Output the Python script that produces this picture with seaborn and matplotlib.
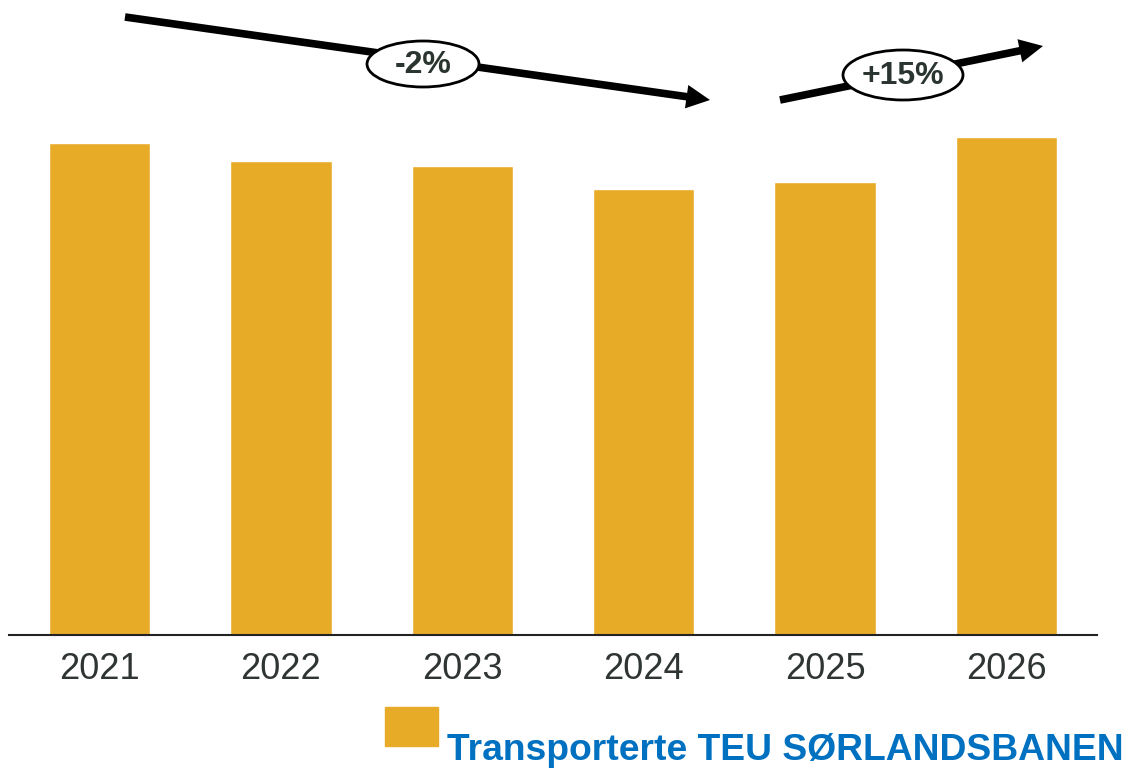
import pandas as pd
import matplotlib.pyplot as plt
import seaborn as sns
from matplotlib.patches import Ellipse, FancyArrowPatch

sns.set_style('white')
plt.rcParams['font.family'] = ['Liberation Sans', 'DejaVu Sans']

# data (no axis scale in source, heights read off in relative units)
years = ['2021', '2022', '2023', '2024', '2025', '2026']
teu = [492, 474, 469, 446, 453, 498]
legend_label = 'Transporterte TEU SØRLANDSBANEN'
changes = ['-2%', '+15%']

bar_color = '#E8AB28'

df = pd.DataFrame({'year': years, 'teu': teu})

fig = plt.figure(figsize=(11.27, 7.68), dpi=100)
ax = fig.add_axes([9 / 1127, 133 / 768, 1088 / 1127, 635 / 768])

sns.barplot(data=df, x='year', y='teu', color=bar_color, width=0.56,
            saturation=1, ax=ax)
ax.set_xlim(-0.5, 5.5)
ax.set_ylim(0, 635)
ax.set_xlabel('')
ax.set_ylabel('')
ax.set_yticks([])
for s in ['top', 'right', 'left']:
    ax.spines[s].set_visible(False)
ax.spines['bottom'].set_color('#222222')
ax.spines['bottom'].set_linewidth(1.5)
ax.tick_params(axis='x', length=0, labelsize=26, labelcolor='#2E3532', pad=12)

# trend arrows, positions given in pixels from top-left
H = 768
def fpx(x, y):
    return (x / 1127, (H - y) / H)

arrows = [((125, 17), (710, 100)), ((780, 100), (1043, 46))]
for (x0, y0), (x1, y1) in arrows:
    fig.patches.append(FancyArrowPatch(
        fpx(x0, y0), fpx(x1, y1), transform=fig.transFigure,
        arrowstyle='simple,tail_width=0.55,head_width=1.7,head_length=1.7',
        mutation_scale=10, color='black', lw=0, shrinkA=0, shrinkB=0))

ells = [((423, 64), 112, 46), ((903, 75), 120, 50)]
for ((cx, cy), w, h), txt in zip(ells, changes):
    e = Ellipse(fpx(cx, cy), w / 1127, h / H, transform=fig.transFigure,
                facecolor='white', edgecolor='black', lw=2, zorder=5)
    fig.patches.append(e)
    fig.text(*fpx(cx, cy + 1), txt, ha='center', va='center', fontsize=23,
             family='Liberation Sans', fontweight='bold', color='#2B3530',
             zorder=6)

# legend
fig.patches.append(plt.Rectangle(fpx(385, 746), 53 / 1127, 39 / H,
                                 transform=fig.transFigure, color=bar_color))
fig.text(*fpx(447, 760), legend_label, ha='left', va='baseline',
         fontsize=26.8, family='Liberation Sans', fontweight='bold',
         color='#0070C0')

fig.savefig('out.png', dpi=100)
